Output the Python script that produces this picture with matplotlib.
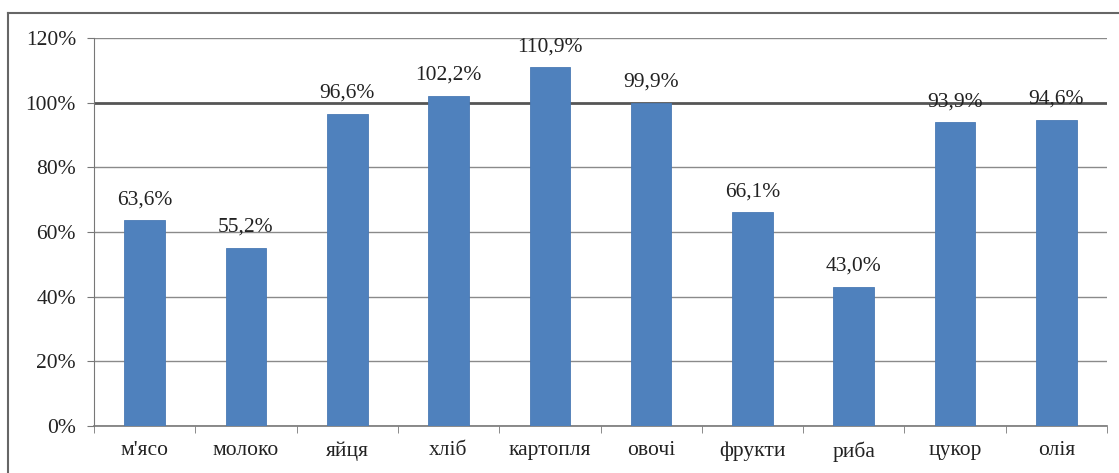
import matplotlib
matplotlib.use('Agg')
import matplotlib.pyplot as plt
from matplotlib.lines import Line2D

categories = ["м'ясо", "молоко", "яйця", "хліб", "картопля", "овочі", "фрукти", "риба", "цукор", "олія"]
values = [63.6, 55.2, 96.6, 102.2, 110.9, 99.9, 66.1, 43.0, 93.9, 94.6]
yticks = [0, 20, 40, 60, 80, 100, 120]

plt.rcParams['font.family'] = ['Liberation Serif', 'DejaVu Serif']
FS = 15.5

W, H = 1119, 473
fig = plt.figure(figsize=(W / 100, H / 100), dpi=100)
ax = fig.add_axes([94 / W, 1 - 426 / H, (1107 - 94) / W, (426 - 38) / H])

x = range(len(categories))
ax.bar(x, values, width=0.4, color='#4F81BD', edgecolor='#4A7AB5', linewidth=0.6, zorder=3)

for i, v in enumerate(values):
    ax.annotate(f'{v:.1f}%'.replace('.', ','), (i, v), xytext=(0, 8),
                textcoords='offset points', ha='center', va='bottom',
                fontsize=FS, color='#222222', zorder=4)

ax.set_xlim(-0.5, len(categories) - 0.5)
ax.set_ylim(0, 120)
ax.set_yticks(yticks)
ax.set_yticklabels([f'{t}%' for t in yticks], fontsize=FS, color='#222222')
ax.set_xticks(list(x))
ax.set_xticklabels(categories, fontsize=FS, color='#222222')
ax.set_xticks([i + 0.5 for i in range(-1, len(categories))], minor=True)
ax.tick_params(axis='x', which='major', length=0, pad=11)
ax.tick_params(axis='x', which='minor', length=5, color='#777777', direction='out')
ax.tick_params(axis='y', length=5, color='#777777', direction='out', pad=8)

for t in yticks:
    ax.axhline(t, color='#555555' if t == 100 else '#8a8a8a',
               lw=2.0 if t == 100 else 1.0, zorder=1)

for s in ['top', 'right']:
    ax.spines[s].set_visible(False)
ax.spines['left'].set_color('#777777')
ax.spines['bottom'].set_color('#777777')
ax.spines['bottom'].set_linewidth(1.2)

# outer chart frame (cut off on right and bottom)
fig.add_artist(Line2D([8 / W, 1], [1 - 13 / H, 1 - 13 / H], color='#666666', lw=1.5))
fig.add_artist(Line2D([8 / W, 8 / W], [0, 1 - 13 / H], color='#666666', lw=1.5))

fig.savefig('out.png', dpi=100)
